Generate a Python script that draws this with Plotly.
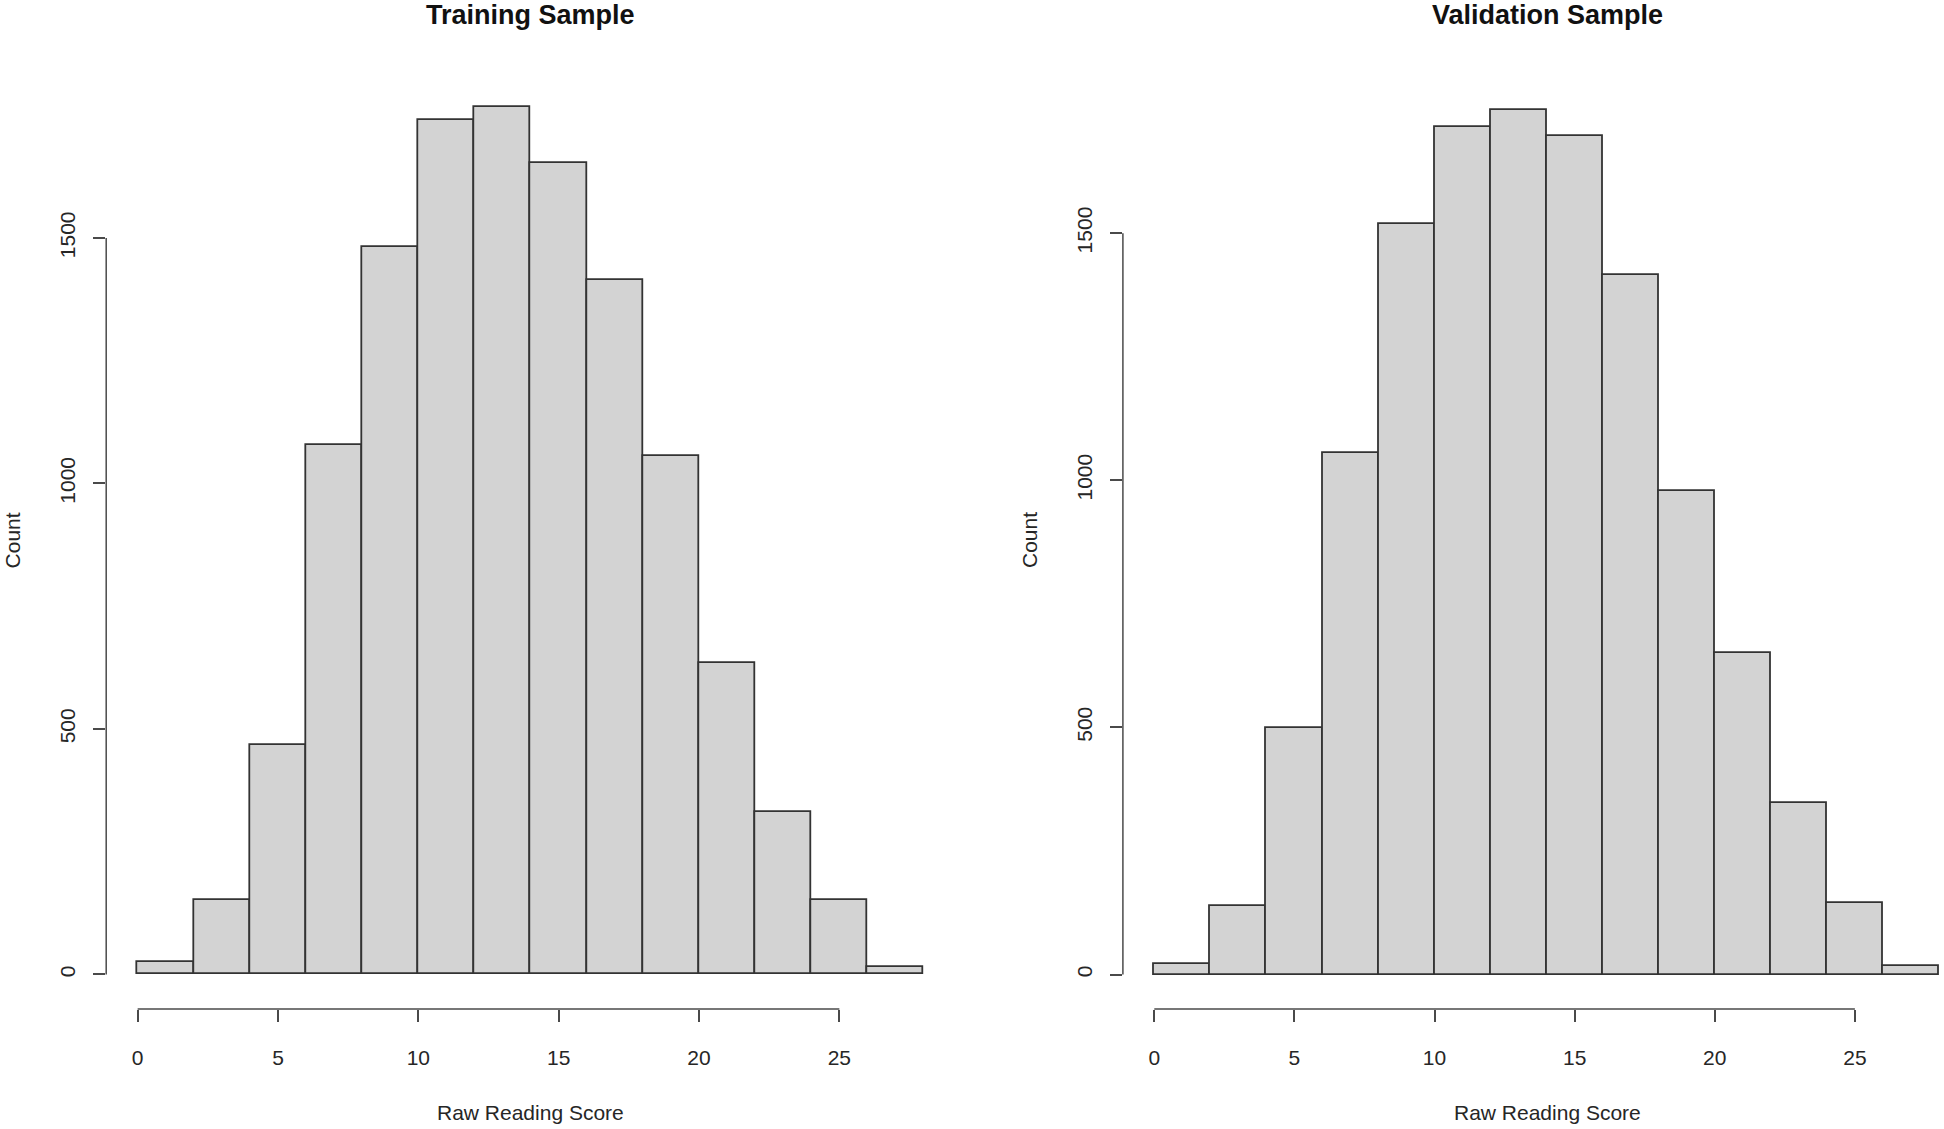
import plotly.graph_objects as go

# ---- data ----
bin_edges = [0, 2, 4, 6, 8, 10, 12, 14, 16, 18, 20, 22, 24, 26, 28]
training_counts = [25, 152, 468, 1078, 1482, 1740, 1766, 1653, 1415, 1056, 634, 330, 152, 15]
validation_counts = [21, 139, 498, 1056, 1518, 1714, 1750, 1697, 1415, 979, 651, 347, 145, 17]
x_ticks = [0, 5, 10, 15, 20, 25]
y_ticks = [0, 500, 1000, 1500]
titles = ["Training Sample", "Validation Sample"]
x_label = "Raw Reading Score"
y_label = "Count"

centers = [(a + b) / 2 for a, b in zip(bin_edges[:-1], bin_edges[1:])]
widths = [b - a for a, b in zip(bin_edges[:-1], bin_edges[1:])]

W, H = 1944, 1129
FONT = "Liberation Sans, Arial, sans-serif"
AX_COL = "#4a4a4a"
TXT_COL = "#262626"

fig = go.Figure()
for i, counts in enumerate([training_counts, validation_counts]):
    sfx = "" if i == 0 else str(i + 1)
    fig.add_trace(go.Bar(
        x=centers, y=counts, width=widths,
        marker=dict(color="#d3d3d3", line=dict(color="#333333", width=1.8)),
        xaxis="x" + sfx, yaxis="y" + sfx, showlegend=False,
    ))

# domains in pixels
ytop, ybot = 72, 1009
ydom = [1 - ybot / H, 1 - ytop / H]
panels = [
    dict(xpx=[106.2, 955.0], xr=[-1.12, 29.12], yr=[-70.3, -70.3 + (ybot - ytop) / 0.491]),
    dict(xpx=[1122.9, 1944.0], xr=[-1.12, 28.18], yr=[-69.8, -69.8 + (ybot - ytop) / 0.4942]),
]
title_cx = [530.5, 1122.9 + 424.4]

layout = dict(
    width=W, height=H, margin=dict(l=0, r=0, t=0, b=0),
    paper_bgcolor="white", plot_bgcolor="white",
    bargap=0, font=dict(family=FONT, size=21, color=TXT_COL),
)
shapes, annotations = [], []
for i, p in enumerate(panels):
    sfx = "" if i == 0 else str(i + 1)
    layout["xaxis" + sfx] = dict(
        domain=[p["xpx"][0] / W, p["xpx"][1] / W], range=p["xr"], anchor="y" + sfx,
        showgrid=False, zeroline=False, showline=False,
        tickmode="array", tickvals=x_ticks, ticks="outside", ticklen=12,
        tickwidth=1.5, tickcolor=AX_COL, ticklabelstandoff=18,
        tickfont=dict(size=21, color=TXT_COL, family=FONT),
    )
    layout["yaxis" + sfx] = dict(
        domain=ydom, range=p["yr"], anchor="x" + sfx,
        showgrid=False, zeroline=False, showline=False,
        tickmode="array", tickvals=y_ticks, ticks="outside", ticklen=12,
        tickwidth=1.5, tickcolor=AX_COL, tickangle=-90, ticklabelstandoff=10,
        tickfont=dict(size=21, color=TXT_COL, family=FONT),
    )
    xa, ya = "x" + sfx, "y" + sfx
    shapes.append(dict(type="line", xref=xa, yref=ya + " domain",
                       x0=x_ticks[0], x1=x_ticks[-1], y0=0, y1=0,
                       line=dict(color=AX_COL, width=1.5)))
    shapes.append(dict(type="line", xref=xa + " domain", yref=ya,
                       x0=0, x1=0, y0=y_ticks[0], y1=y_ticks[-1],
                       line=dict(color=AX_COL, width=1.5)))
    xc = title_cx[i] / W
    annotations.append(dict(text="<b>" + titles[i] + "</b>", xref="paper", yref="paper",
                            x=xc, y=1 - 15 / H, xanchor="center", yanchor="middle",
                            showarrow=False, font=dict(size=27, color="#111", family=FONT)))
    annotations.append(dict(text=x_label, xref="paper", yref="paper",
                            x=xc, y=1 - 1112 / H, xanchor="center", yanchor="middle",
                            showarrow=False, font=dict(size=21, color=TXT_COL, family=FONT)))
    cx = 12.4 if i == 0 else 1029
    annotations.append(dict(text=y_label, xref="paper", yref="paper",
                            x=cx / W, y=1 - 540 / H, xanchor="center", yanchor="middle",
                            textangle=-90, showarrow=False,
                            font=dict(size=21, color=TXT_COL, family=FONT)))

layout["shapes"] = shapes
layout["annotations"] = annotations
fig.update_layout(**layout)
fig.write_html(
    "out.html",
    config={"displayModeBar": False},
    post_script="document.body.style.margin='0';document.body.style.overflow='hidden';",
)
